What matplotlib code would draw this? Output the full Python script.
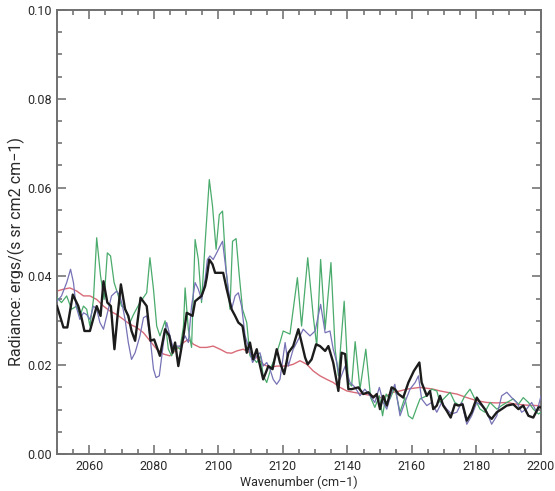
import matplotlib
matplotlib.use("Agg")
import matplotlib.pyplot as plt
from matplotlib.ticker import MultipleLocator, FormatStrFormatter

# ---------------- data ----------------
black_wn = [2050.0, 2052.0, 2053.2, 2054.9, 2056.6, 2057.6, 2058.5, 2060.2, 2062.3, 2063.5,
            2064.4, 2065.6, 2066.7, 2067.8, 2068.8, 2069.8, 2071.1, 2072.1, 2073.1, 2074.2,
            2075.9, 2077.8, 2079.0, 2080.1, 2081.9, 2083.5, 2084.8, 2085.8, 2086.6, 2087.6,
            2089.2, 2090.2, 2092.0, 2092.8, 2094.8, 2095.9, 2096.4, 2097.2, 2098.2, 2099.0,
            2101.5, 2102.6, 2104.1, 2105.2, 2106.2, 2107.5, 2108.8, 2109.8, 2110.8, 2111.9,
            2112.7, 2113.9, 2115.5, 2116.8, 2118.1, 2119.1,
            2120.4, 2121.7, 2123.2, 2124.8, 2125.8, 2126.9, 2127.7, 2128.9, 2130.3, 2131.5,
            2133.1, 2134.1, 2135.6, 2137.2, 2138.2, 2139.3, 2140.3, 2141.3, 2143.4, 2144.9,
            2146.5, 2148.0, 2149.1, 2150.1, 2151.1, 2152.2, 2153.7, 2154.7, 2155.8, 2157.3,
            2158.9, 2160.6, 2162.3, 2163.0, 2164.6, 2165.6, 2166.6, 2167.7, 2168.7, 2169.7,
            2170.8, 2172.0, 2173.3, 2174.4, 2175.7, 2177.0, 2178.5, 2180.1, 2181.1, 2182.6,
            2183.7, 2184.7, 2186.3, 2187.8, 2189.4, 2191.4, 2193.0, 2194.5, 2196.1, 2197.6,
            2199.2, 2200.0]
black_val = [0.0333, 0.0285, 0.0285, 0.0359, 0.0333, 0.0307, 0.0277, 0.0277, 0.0333, 0.0311,
             0.0389, 0.0341, 0.0333, 0.0236, 0.0314, 0.0382, 0.0326, 0.0311, 0.0277, 0.0255,
             0.0352, 0.0333, 0.0255, 0.0258, 0.0221, 0.0281, 0.0266, 0.0228, 0.0251, 0.0198,
             0.0266, 0.0318, 0.0311, 0.0344, 0.0356, 0.0378, 0.0397, 0.0438, 0.0427, 0.0408,
             0.0408, 0.0371, 0.0326, 0.0311, 0.0296, 0.0288, 0.0228, 0.0251, 0.0213, 0.0236,
             0.0206, 0.0168, 0.0198, 0.0191, 0.0236, 0.0206,
             0.0180, 0.0228, 0.0243, 0.0281, 0.0251, 0.0217, 0.0202, 0.0213, 0.0247, 0.0243,
             0.0232, 0.0243, 0.0206, 0.0142, 0.0228, 0.0225, 0.0146, 0.0146, 0.0150, 0.0135,
             0.0139, 0.0127, 0.0135, 0.0101, 0.0131, 0.0109, 0.0150, 0.0146, 0.0135, 0.0127,
             0.0161, 0.0187, 0.0206, 0.0161, 0.0131, 0.0142, 0.0101, 0.0109, 0.0131, 0.0109,
             0.0097, 0.0082, 0.0112, 0.0109, 0.0112, 0.0075, 0.0094, 0.0127, 0.0116, 0.0101,
             0.0086, 0.0079, 0.0094, 0.0101, 0.0109, 0.0112, 0.0101, 0.0109, 0.0086, 0.0082,
             0.0105, 0.0105]

green_wn = [2050.0, 2051.4, 2053.0, 2054.5, 2056.1, 2057.1, 2058.2, 2059.2, 2060.2, 2061.3,
            2062.3, 2063.5, 2064.6, 2065.6, 2066.6, 2067.7, 2068.7, 2070.0, 2071.1, 2072.6,
            2073.7, 2075.7, 2077.8, 2078.8, 2079.9, 2080.9, 2081.9, 2083.5, 2084.5, 2085.5,
            2086.9, 2088.1, 2089.2, 2089.7, 2090.7, 2091.7, 2092.8, 2093.8, 2094.8, 2095.9,
            2097.2, 2098.2, 2099.3, 2100.3, 2101.3, 2102.4, 2103.6, 2104.4, 2105.5, 2106.5,
            2107.5, 2108.8, 2109.8, 2111.1, 2111.9, 2113.1, 2113.9, 2115.0, 2116.5, 2118.1,
            2119.1, 2120.1,
            2122.2, 2124.5, 2125.8, 2127.7, 2129.4, 2130.5, 2131.7, 2133.1, 2134.9, 2136.2,
            2137.2, 2139.0, 2140.3, 2141.3, 2142.4, 2143.9, 2145.7, 2147.2, 2148.5, 2149.9,
            2150.9, 2152.0, 2153.2, 2154.7, 2156.3, 2157.8, 2158.9, 2160.2, 2161.5, 2162.5,
            2164.6, 2166.1, 2167.7, 2168.7, 2170.2, 2171.8, 2173.3, 2174.9, 2176.4, 2178.0,
            2179.5, 2181.1, 2182.6, 2184.2, 2186.3, 2187.8, 2189.4, 2191.4, 2193.0, 2194.5,
            2196.1, 2197.6, 2199.2, 2200.0]
green_val = [0.0352, 0.0341, 0.0356, 0.0326, 0.0333, 0.0311, 0.0333, 0.0326, 0.0288, 0.0348,
             0.0487, 0.0401, 0.0348, 0.0453, 0.0446, 0.0386, 0.0363, 0.0333, 0.0329, 0.0296,
             0.0314, 0.0341, 0.0363, 0.0442, 0.0371, 0.0288, 0.0266, 0.0300, 0.0236, 0.0221,
             0.0243, 0.0236, 0.0288, 0.0374, 0.0281, 0.0240, 0.0483, 0.0438, 0.0341, 0.0475,
             0.0618, 0.0558, 0.0461, 0.0539, 0.0547, 0.0416, 0.0326, 0.0479, 0.0485, 0.0401,
             0.0326, 0.0296, 0.0221, 0.0213, 0.0206, 0.0221, 0.0176, 0.0161, 0.0198, 0.0228,
             0.0251, 0.0277,
             0.0270, 0.0397, 0.0288, 0.0442, 0.0311, 0.0243, 0.0438, 0.0281, 0.0431, 0.0236,
             0.0176, 0.0344, 0.0161, 0.0153, 0.0253, 0.0146, 0.0236, 0.0127, 0.0105, 0.0131,
             0.0086, 0.0135, 0.0124, 0.0150, 0.0094, 0.0127, 0.0086, 0.0079, 0.0105, 0.0124,
             0.0131, 0.0146, 0.0142, 0.0116, 0.0127, 0.0139, 0.0116, 0.0109, 0.0131, 0.0146,
             0.0124, 0.0101, 0.0094, 0.0116, 0.0101, 0.0109, 0.0116, 0.0124, 0.0112, 0.0127,
             0.0116, 0.0101, 0.0090, 0.0094]

blue_wn = [2050.0, 2051.4, 2053.0, 2054.2, 2055.1, 2055.9, 2057.1, 2058.2, 2059.2, 2060.2,
           2061.3, 2062.3, 2063.3, 2064.4, 2065.4, 2066.9, 2068.5, 2069.5, 2070.3, 2071.1,
           2072.1, 2073.1, 2074.2, 2075.7, 2076.8, 2077.8, 2078.8, 2079.9, 2080.7, 2081.7,
           2083.0, 2084.0, 2085.0, 2086.1, 2087.1, 2088.3, 2089.7, 2090.7, 2091.7, 2092.8,
           2093.8, 2094.8, 2095.9, 2096.6, 2097.4, 2098.4, 2099.5, 2100.5, 2101.3, 2102.1,
           2103.1, 2104.1, 2105.2, 2106.2, 2107.2, 2108.3, 2109.6, 2110.6, 2111.9, 2112.9,
           2113.9, 2115.0, 2116.0, 2117.0, 2118.1, 2119.1,
           2120.7, 2121.7, 2123.2, 2124.8, 2126.3, 2128.4, 2130.0, 2131.7, 2133.1, 2134.6,
           2135.6, 2136.7, 2137.7, 2139.3, 2140.8, 2142.4, 2143.9, 2145.4, 2147.0, 2148.5,
           2149.9, 2151.1, 2152.2, 2153.7, 2154.7, 2156.3, 2157.8, 2159.4, 2161.0, 2162.0,
           2163.0, 2164.6, 2166.1, 2167.7, 2169.2, 2170.8, 2172.3, 2173.9, 2175.4, 2177.0,
           2178.5, 2180.1, 2181.6, 2183.2, 2184.7, 2186.3, 2187.8, 2189.4, 2190.9, 2192.5,
           2194.0, 2195.5, 2197.1, 2198.7, 2200.0]
blue_val = [0.0344, 0.0356, 0.0386, 0.0416, 0.0386, 0.0333, 0.0303, 0.0318, 0.0314, 0.0303,
            0.0333, 0.0326, 0.0296, 0.0281, 0.0311, 0.0356, 0.0367, 0.0356, 0.0333, 0.0303,
            0.0251, 0.0213, 0.0228, 0.0266, 0.0307, 0.0311, 0.0266, 0.0191, 0.0172, 0.0176,
            0.0251, 0.0296, 0.0266, 0.0236, 0.0243, 0.0243, 0.0266, 0.0251, 0.0333, 0.0386,
            0.0371, 0.0348, 0.0393, 0.0438, 0.0446, 0.0438, 0.0453, 0.0468, 0.0479, 0.0431,
            0.0371, 0.0326, 0.0356, 0.0363, 0.0333, 0.0266, 0.0236, 0.0206, 0.0221, 0.0228,
            0.0198, 0.0206, 0.0191, 0.0168, 0.0157, 0.0168,
            0.0251, 0.0198, 0.0236, 0.0258, 0.0281, 0.0266, 0.0277, 0.0337, 0.0273, 0.0277,
            0.0236, 0.0206, 0.0168, 0.0198, 0.0161, 0.0150, 0.0131, 0.0146, 0.0131, 0.0116,
            0.0150, 0.0116, 0.0101, 0.0139, 0.0157, 0.0086, 0.0116, 0.0146, 0.0161, 0.0176,
            0.0124, 0.0109, 0.0116, 0.0094, 0.0116, 0.0101, 0.0090, 0.0094, 0.0116, 0.0067,
            0.0086, 0.0116, 0.0109, 0.0094, 0.0067, 0.0086, 0.0131, 0.0139, 0.0127, 0.0116,
            0.0094, 0.0101, 0.0116, 0.0094, 0.0131]

red_wn = [2050.0, 2052.0, 2054.0, 2056.1, 2058.2, 2060.2, 2062.3, 2064.4, 2066.4, 2068.5,
          2070.6, 2072.6, 2074.7, 2076.8, 2078.8, 2080.9, 2083.0, 2085.0, 2087.1, 2089.2,
          2090.7, 2092.3, 2094.3, 2096.4, 2098.4, 2100.5, 2102.6, 2104.1, 2105.7, 2107.7,
          2109.8, 2111.9, 2113.9, 2116.0, 2118.1,
          2121.2, 2123.2, 2125.3, 2127.4, 2129.4, 2131.5, 2133.6, 2135.6, 2137.7, 2139.8,
          2141.8, 2144.9, 2148.0, 2150.1, 2152.2, 2154.2, 2156.3, 2158.4, 2160.4, 2162.5,
          2164.6, 2166.6, 2168.7, 2170.8, 2173.9, 2177.0, 2180.1, 2183.2, 2186.3, 2189.4,
          2192.5, 2195.5, 2198.7, 2200.0]
red_val = [0.0367, 0.0371, 0.0374, 0.0367, 0.0356, 0.0356, 0.0348, 0.0333, 0.0322, 0.0314,
           0.0303, 0.0292, 0.0285, 0.0273, 0.0255, 0.0236, 0.0225, 0.0221, 0.0236, 0.0251,
           0.0258, 0.0247, 0.0240, 0.0240, 0.0243, 0.0236, 0.0228, 0.0227, 0.0232, 0.0236,
           0.0228, 0.0217, 0.0202, 0.0195, 0.0198,
           0.0198, 0.0202, 0.0210, 0.0202, 0.0187, 0.0176, 0.0168, 0.0161, 0.0150, 0.0142,
           0.0139, 0.0135, 0.0131, 0.0127, 0.0131, 0.0139, 0.0142, 0.0146, 0.0148, 0.0150,
           0.0148, 0.0146, 0.0142, 0.0139, 0.0135, 0.0127, 0.0120, 0.0116, 0.0115, 0.0116,
           0.0112, 0.0110, 0.0109, 0.0109]

x_ticks = [2060, 2080, 2100, 2120, 2140, 2160, 2180, 2200]
y_ticks = [0.00, 0.02, 0.04, 0.06, 0.08, 0.10]
x_label = "Wavenumber (cm\u22121)"
y_label = "Radiance: ergs/(s sr cm2 cm\u22121)"

# ---------------- figure ----------------
plt.rcParams['font.family'] = ['Roboto', 'DejaVu Sans']
fig = plt.figure(figsize=(5.55, 4.91), dpi=100)
ax = fig.add_axes([0.1027, 0.0754, 0.8721, 0.9043])

ax.plot(red_wn, red_val, color="#d86b78", lw=1.0, zorder=2)
ax.plot(green_wn, green_val, color="#4aab6c", lw=0.9, zorder=3)
ax.plot(blue_wn, blue_val, color="#7672b6", lw=0.9, zorder=4)
ax.plot(black_wn, black_val, color="#1c1c1c", lw=1.7, zorder=5)

ax.set_xlim(2050, 2200)
ax.set_ylim(0.0, 0.10)
ax.set_xticks(x_ticks)
ax.set_yticks(y_ticks)
ax.xaxis.set_minor_locator(MultipleLocator(5))
ax.yaxis.set_minor_locator(MultipleLocator(0.005))
ax.yaxis.set_major_formatter(FormatStrFormatter("%.2f"))

tick_col = "#6a6a6a"
ax.tick_params(which="both", direction="in", top=True, right=True,
               colors=tick_col, labelcolor="#2a2a2a", width=1.1)
ax.tick_params(which="major", length=6.5, labelsize=9, pad=4)
ax.tick_params(which="minor", length=3.5)
for s in ax.spines.values():
    s.set_color("#707070")
    s.set_linewidth(1.4)

ax.set_xlabel(x_label, fontsize=9, color="#2a2a2a", labelpad=2)
ax.set_ylabel(y_label, fontsize=11.5, color="#2a2a2a")
ax.yaxis.set_label_coords(-0.066, 0.455)

fig.savefig("out.png", dpi=100)
